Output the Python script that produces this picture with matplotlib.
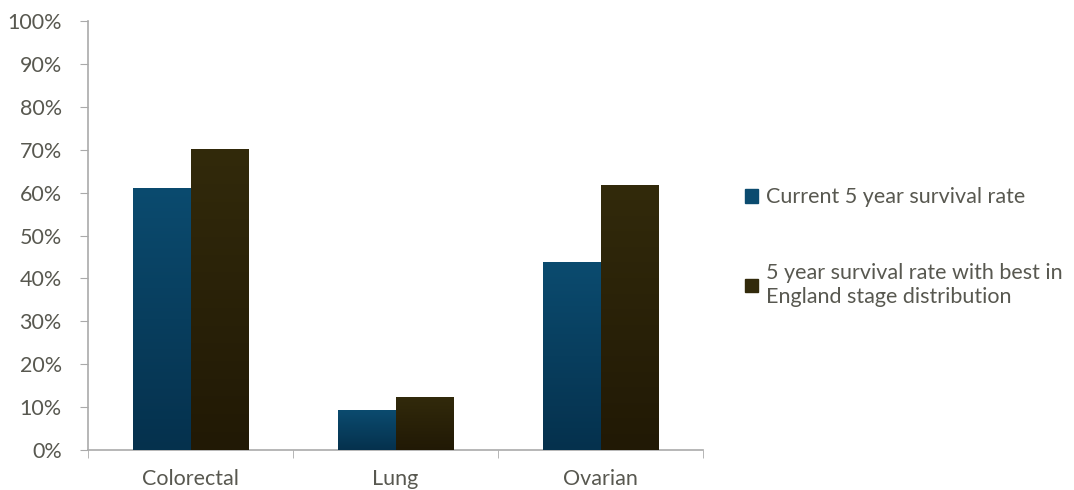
import matplotlib.pyplot as plt
import matplotlib.patches as mpatches
import numpy as np
from matplotlib.colors import LinearSegmentedColormap

plt.rcParams['font.family'] = ['Lato', 'DejaVu Sans']

# data
categories = ['Colorectal', 'Lung', 'Ovarian']
current_rate = [61.1, 9.3, 43.8]
best_stage_rate = [70.2, 12.4, 61.8]
series_labels = ['Current 5 year survival rate',
                 '5 year survival rate with best in\nEngland stage distribution']

# colours (top, bottom) for the gradient fill
blue_top, blue_bot = '#0b4b6f', '#05314d'
dark_top, dark_bot = '#322a0b', '#211905'
text_color = '#585850'
axis_color = '#aaaaaa'
fs = 15.5

fig = plt.figure(figsize=(10.74, 4.9), dpi=100)
ax = fig.add_axes([0.082, 0.0816, 0.5726, 0.8755])

x = np.arange(len(categories))
width = 0.28


def gradient_bars(xpos, values, c_top, c_bot):
    bars = ax.bar(xpos, values, width, color=c_bot, zorder=2)
    cmap = LinearSegmentedColormap.from_list('g', [c_bot, c_top])
    grad = np.linspace(0, 1, 256).reshape(-1, 1)
    for b in bars:
        x0, y0 = b.get_x(), b.get_y()
        im = ax.imshow(grad, cmap=cmap, origin='lower', aspect='auto',
                       extent=[x0, x0 + b.get_width(), y0, y0 + b.get_height()],
                       zorder=3)
        im.set_clip_path(b)
    return bars


gradient_bars(x - width / 2, current_rate, blue_top, blue_bot)
gradient_bars(x + width / 2, best_stage_rate, dark_top, dark_bot)

ax.set_xlim(-0.5, len(categories) - 0.5)
ax.set_ylim(0, 100)
ax.set_yticks(np.arange(0, 101, 10))
ax.set_yticklabels([f'{v}%' for v in range(0, 101, 10)])

ax.set_xticks(x)
ax.set_xticklabels(categories)
ax.set_xticks(np.arange(-0.5, len(categories), 1), minor=True)
ax.tick_params(axis='x', which='major', length=0, pad=14, labelsize=fs, labelcolor=text_color)
ax.tick_params(axis='x', which='minor', length=6, color=axis_color, direction='out')
ax.tick_params(axis='y', length=6, color=axis_color, labelsize=fs, labelcolor=text_color, pad=13)

for side in ['top', 'right']:
    ax.spines[side].set_visible(False)
for side in ['left', 'bottom']:
    ax.spines[side].set_color(axis_color)
    ax.spines[side].set_linewidth(1.2)

handles = [mpatches.Patch(color=blue_top), mpatches.Patch(color=dark_top)]
fig.legend(handles, series_labels, loc='upper left', bbox_to_anchor=(0.676, 0.657),
           frameon=False, fontsize=fs, labelcolor=text_color,
           handlelength=0.6, handleheight=0.6, handletextpad=0.35, labelspacing=2.6)

fig.savefig('out.png', dpi=100, facecolor='white')
